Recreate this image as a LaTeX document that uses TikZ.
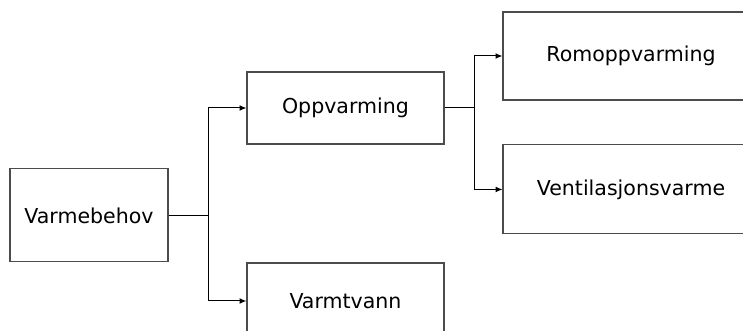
\documentclass[tikz,border=0pt]{standalone}
\usepackage{fontspec}
\setmainfont{DejaVu Sans}
\usetikzlibrary{arrows.meta}
\begin{document}
\begin{tikzpicture}[x=1pt,y=1pt,
  box/.style={draw=black!70, line width=0.8pt, fill=white, inner sep=0pt, font=\fontsize{15.4}{18}\selectfont},
  conn/.style={draw=black, line width=0.75pt},
  arr/.style={conn, -{Latex[length=5.2pt,width=4.4pt]}}]
\useasboundingbox (0,0) rectangle (557.25,-248.25);
\fill[white] (0,0) rectangle (557.25,-248.25);
\node[box, minimum width=118.5pt, minimum height=69.75pt] (V) at (66.75,-161.6) {Varmebehov};
\node[box, minimum width=147.75pt, minimum height=54pt] (O) at (259.1,-81) {Oppvarming};
\node[box, minimum width=147.75pt, minimum height=57pt] (W) at (259.1,-225.75) {Varmtvann};
\node[box, minimum width=192pt, minimum height=66pt] (R) at (473.25,-42) {Romoppvarming};
\node[box, minimum width=192pt, minimum height=66.75pt] (Ve) at (473.25,-142.1) {Ventilasjonsvarme};
\coordinate (j1) at (156,-161.6);
\coordinate (j2) at (355.5,-81);
\draw[conn] (V.east) -- (j1);
\draw[arr] (j1) |- (O.west);
\draw[arr] (j1) |- (W.west);
\draw[conn] (O.east) -- (j2);
\draw[arr] (j2) |- (R.west);
\draw[arr] (j2) |- (Ve.west);
\end{tikzpicture}
\end{document}
